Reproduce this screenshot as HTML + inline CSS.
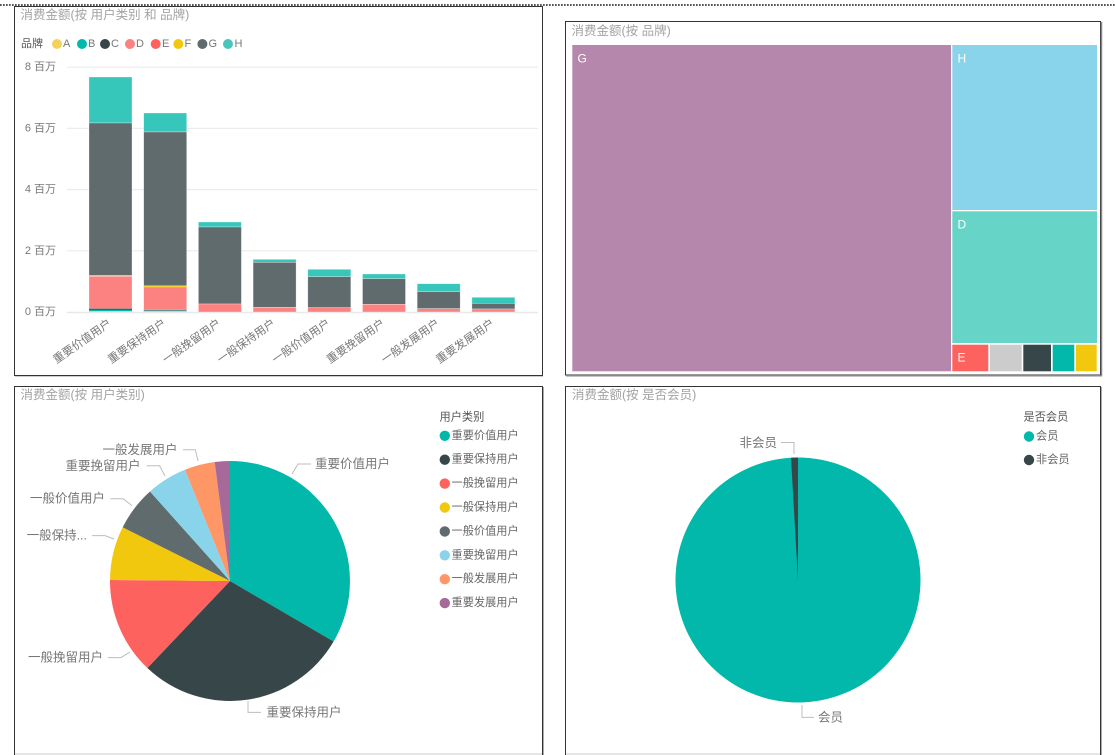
<!DOCTYPE html>
<html><head><meta charset="utf-8"><style>
html,body{margin:0;padding:0;background:#fff;}
svg{display:block;}
text{font-family:"Liberation Sans","Noto Sans CJK SC",sans-serif;}
</style></head><body>
<svg width="1115" height="755" viewBox="0 0 1115 755" xmlns="http://www.w3.org/2000/svg">
<rect width="1115" height="755" fill="#fff"/>
<!-- dotted top line -->
<line x1="0" y1="5" x2="1115" y2="5" stroke="#555" stroke-width="2" stroke-dasharray="1.7 1.3"/>

<!-- panel borders -->
<rect x="14.5" y="6.5" width="528" height="369" fill="none" stroke="#333" stroke-width="1"/>
<line x1="15" y1="376.5" x2="543" y2="376.5" stroke="#ccc"/>
<rect x="565.5" y="21.5" width="535" height="353.5" fill="none" stroke="#333" stroke-width="1"/>
<line x1="1101.5" y1="22" x2="1101.5" y2="376" stroke="#888" stroke-width="1.5"/>
<line x1="566" y1="375.8" x2="1102" y2="375.8" stroke="#888" stroke-width="1.5"/>
<rect x="14.5" y="386.5" width="528" height="380" fill="none" stroke="#333" stroke-width="1"/>
<line x1="543.5" y1="387" x2="543.5" y2="755" stroke="#aaa"/>
<rect x="565.5" y="386.5" width="535" height="380" fill="none" stroke="#333" stroke-width="1"/>
<line x1="1101.5" y1="387" x2="1101.5" y2="755" stroke="#aaa"/>
<line x1="15" y1="754" x2="542" y2="754" stroke="#ddd" stroke-width="1.5"/>
<line x1="566" y1="754" x2="1100" y2="754" stroke="#ddd" stroke-width="1.5"/>

<!-- ============ PANEL 1: stacked bar ============ -->
<text x="20.5" y="15" font-size="12.5" fill="#a3a3a3" dominant-baseline="central">消费金额(按 用户类别 和 品牌)</text>
<g font-size="11" dominant-baseline="central">
<text x="21" y="44" fill="#555">品牌</text>
<circle cx="57" cy="44" r="5" fill="#F4D25A"/><text x="63" y="44" fill="#777">A</text>
<circle cx="82" cy="44" r="5" fill="#01B8AA"/><text x="88" y="44" fill="#777">B</text>
<circle cx="105" cy="44" r="5" fill="#374649"/><text x="111" y="44" fill="#777">C</text>
<circle cx="130" cy="44" r="5" fill="#FB8281"/><text x="136" y="44" fill="#777">D</text>
<circle cx="155.7" cy="44" r="5" fill="#FD625E"/><text x="162" y="44" fill="#777">E</text>
<circle cx="178.3" cy="44" r="5" fill="#F2C80F"/><text x="184.5" y="44" fill="#777">F</text>
<circle cx="202.4" cy="44" r="5" fill="#5F6B6D"/><text x="208.5" y="44" fill="#777">G</text>
<circle cx="228" cy="44" r="5" fill="#4AC5BB"/><text x="234.5" y="44" fill="#777">H</text>
</g>
<!-- gridlines -->
<g stroke="#ececec" stroke-width="1.2">
<line x1="67" y1="67.2" x2="538" y2="67.2"/>
<line x1="67" y1="128.4" x2="538" y2="128.4"/>
<line x1="67" y1="189.6" x2="538" y2="189.6"/>
<line x1="67" y1="250.8" x2="538" y2="250.8"/>
</g>
<line x1="67" y1="312.5" x2="538" y2="312.5" stroke="#e8e8e8" stroke-width="1.6"/>
<g font-size="11" fill="#777" text-anchor="end" dominant-baseline="central">
<text x="56" y="67">8 百万</text>
<text x="56" y="128.4">6 百万</text>
<text x="56" y="189.6">4 百万</text>
<text x="56" y="250.8">2 百万</text>
<text x="56" y="312">0 百万</text>
</g>
<!-- bars -->
<g stroke="#fff" stroke-width="0.6" stroke-opacity="0.5">
<!-- bar 1 -->
<rect x="89" y="77" width="43" height="46" fill="#37C6BA"/>
<rect x="89" y="123" width="43" height="152.3" fill="#5F6B6D"/>
<rect x="89" y="275.3" width="43" height="1" fill="#F2C80F" stroke="none"/>
<rect x="89" y="276.3" width="43" height="32.4" fill="#FB8281"/>
<rect x="89" y="308.7" width="43" height="1.2" fill="#374649" stroke="none"/>
<rect x="89" y="309.9" width="43" height="1.2" fill="#01B8AA" stroke="none"/>
<rect x="89" y="311.1" width="43" height="0.9" fill="#F4D25A" stroke="none"/>
<!-- bar 2 -->
<rect x="143.7" y="113" width="43" height="19" fill="#37C6BA"/>
<rect x="143.7" y="132" width="43" height="153.7" fill="#5F6B6D"/>
<rect x="143.7" y="285.7" width="43" height="1.3" fill="#F2C80F" stroke="none"/>
<rect x="143.7" y="287" width="43" height="22.7" fill="#FB8281"/>
<rect x="143.7" y="309.7" width="43" height="1.3" fill="#5a9a96" stroke="none"/>
<rect x="143.7" y="311" width="43" height="1" fill="#F4D25A" stroke="none"/>
<!-- bar 3 -->
<rect x="198.4" y="222" width="43" height="5" fill="#37C6BA"/>
<rect x="198.4" y="227" width="43" height="77" fill="#5F6B6D"/>
<rect x="198.4" y="304" width="43" height="8" fill="#FB8281"/>
<!-- bar 4 -->
<rect x="253.1" y="259.3" width="43" height="3" fill="#37C6BA"/>
<rect x="253.1" y="262.3" width="43" height="45" fill="#5F6B6D"/>
<rect x="253.1" y="307.3" width="43" height="4.7" fill="#FB8281"/>
<!-- bar 5 -->
<rect x="307.8" y="269.3" width="43" height="7.4" fill="#37C6BA"/>
<rect x="307.8" y="276.7" width="43" height="31" fill="#5F6B6D"/>
<rect x="307.8" y="307.7" width="43" height="4.3" fill="#FB8281"/>
<!-- bar 6 -->
<rect x="362.5" y="274" width="43" height="4.7" fill="#37C6BA"/>
<rect x="362.5" y="278.7" width="43" height="25.6" fill="#5F6B6D"/>
<rect x="362.5" y="304.3" width="43" height="7.7" fill="#FB8281"/>
<!-- bar 7 -->
<rect x="417.2" y="283.7" width="43" height="8" fill="#37C6BA"/>
<rect x="417.2" y="291.7" width="43" height="17" fill="#5F6B6D"/>
<rect x="417.2" y="308.7" width="43" height="3.3" fill="#FB8281"/>
<!-- bar 8 -->
<rect x="471.9" y="297.3" width="43" height="6" fill="#37C6BA"/>
<rect x="471.9" y="303.3" width="43" height="5.7" fill="#5F6B6D"/>
<rect x="471.9" y="309" width="43" height="3" fill="#FB8281"/>
</g>
<!-- x labels -->
<g font-size="11.3" fill="#777" text-anchor="end">
<text transform="translate(106.5,317) rotate(-35)" dy="0.86em">重要价值用户</text>
<text transform="translate(161.2,317) rotate(-35)" dy="0.86em">重要保持用户</text>
<text transform="translate(215.9,317) rotate(-35)" dy="0.86em">一般挽留用户</text>
<text transform="translate(270.6,317) rotate(-35)" dy="0.86em">一般保持用户</text>
<text transform="translate(325.3,317) rotate(-35)" dy="0.86em">一般价值用户</text>
<text transform="translate(380,317) rotate(-35)" dy="0.86em">重要挽留用户</text>
<text transform="translate(434.7,317) rotate(-35)" dy="0.86em">一般发展用户</text>
<text transform="translate(489.4,317) rotate(-35)" dy="0.86em">重要发展用户</text>
</g>

<!-- ============ PANEL 2: treemap ============ -->
<text x="571.5" y="31" font-size="12.5" fill="#a3a3a3" dominant-baseline="central">消费金额(按 品牌)</text>
<rect x="572.3" y="45" width="378.7" height="326.3" fill="#B687AC"/>
<rect x="952.3" y="45" width="144.7" height="165" fill="#8AD4EB"/>
<rect x="952.3" y="211.3" width="144.7" height="131.7" fill="#67D4C8"/>
<rect x="952.3" y="344.7" width="36" height="26.6" fill="#FD625E"/>
<rect x="990" y="344.7" width="31.7" height="26.6" fill="#CCCCCC"/>
<rect x="1023.3" y="344.7" width="27.7" height="26.6" fill="#374649"/>
<rect x="1052.7" y="344.7" width="21.6" height="26.6" fill="#01B8AA"/>
<rect x="1076" y="344.7" width="20.7" height="26.6" fill="#F2C80F"/>
<g font-size="12" fill="#fff" dominant-baseline="central">
<text x="577.5" y="58.5">G</text>
<text x="957.5" y="58.5">H</text>
<text x="957.5" y="224.5">D</text>
<text x="957.5" y="357.5">E</text>
</g>

<!-- ============ PANEL 3: pie ============ -->
<text x="20.5" y="395" font-size="12.5" fill="#a3a3a3" dominant-baseline="central">消费金额(按 用户类别)</text>
<path d="M230,581 L230,461 A120,120 0 0 1 333.6,641.5 Z" fill="#01B8AA"/>
<path d="M230,581 L333.6,641.5 A120,120 0 0 1 147.4,668 Z" fill="#374649"/>
<path d="M230,581 L147.4,668 A120,120 0 0 1 110,580 Z" fill="#FD625E"/>
<path d="M230,581 L110,580 A120,120 0 0 1 122.7,527.3 Z" fill="#F2C80F"/>
<path d="M230,581 L122.7,527.3 A120,120 0 0 1 150,491.5 Z" fill="#5F6B6D"/>
<path d="M230,581 L150,491.5 A120,120 0 0 1 184.9,469.8 Z" fill="#8AD4EB"/>
<path d="M230,581 L184.9,469.8 A120,120 0 0 1 214.7,462 Z" fill="#FE9666"/>
<path d="M230,581 L214.7,462 A120,120 0 0 1 230,461 Z" fill="#A66999"/>
<g fill="none" stroke="#bdbdbd" stroke-width="1">
<polyline points="292,474 298,464 311,464"/>
<polyline points="248,701 248,712.4 261,712.4"/>
<polyline points="108,657.6 121,657.6 130,652"/>
<polyline points="92,535.6 105,535.6 114,539"/>
<polyline points="110.5,498.7 123,498.7 132,505.6"/>
<polyline points="146.6,465.8 159.6,465.8 165,476"/>
<polyline points="183,449.8 195.4,449.8 198,461"/>
</g>
<g font-size="12.5" fill="#777" dominant-baseline="central">
<text x="315" y="464">重要价值用户</text>
<text x="266.5" y="712.4">重要保持用户</text>
<text x="103" y="657.6" text-anchor="end">一般挽留用户</text>
<text x="87" y="535.6" text-anchor="end">一般保持...</text>
<text x="105" y="498.7" text-anchor="end">一般价值用户</text>
<text x="140.5" y="465.8" text-anchor="end">重要挽留用户</text>
<text x="177.5" y="449.8" text-anchor="end">一般发展用户</text>
</g>
<g font-size="11.2" dominant-baseline="central">
<text x="439.5" y="417.6" fill="#555">用户类别</text>
<circle cx="444.8" cy="435.8" r="5.2" fill="#01B8AA"/><text x="451.5" y="435.8" fill="#666">重要价值用户</text>
<circle cx="444.8" cy="459.7" r="5.2" fill="#374649"/><text x="451.5" y="459.7" fill="#666">重要保持用户</text>
<circle cx="444.8" cy="483.6" r="5.2" fill="#FD625E"/><text x="451.5" y="483.6" fill="#666">一般挽留用户</text>
<circle cx="444.8" cy="507.5" r="5.2" fill="#F2C80F"/><text x="451.5" y="507.5" fill="#666">一般保持用户</text>
<circle cx="444.8" cy="531.4" r="5.2" fill="#5F6B6D"/><text x="451.5" y="531.4" fill="#666">一般价值用户</text>
<circle cx="444.8" cy="555.3" r="5.2" fill="#8AD4EB"/><text x="451.5" y="555.3" fill="#666">重要挽留用户</text>
<circle cx="444.8" cy="579.2" r="5.2" fill="#FE9666"/><text x="451.5" y="579.2" fill="#666">一般发展用户</text>
<circle cx="444.8" cy="603.1" r="5.2" fill="#A66999"/><text x="451.5" y="603.1" fill="#666">重要发展用户</text>
</g>

<!-- ============ PANEL 4: pie ============ -->
<text x="572" y="395" font-size="12.5" fill="#a3a3a3" dominant-baseline="central">消费金额(按 是否会员)</text>
<circle cx="798" cy="580" r="122.5" fill="#01B8AA"/>
<path d="M798,580 L791,457.7 A122.5,122.5 0 0 1 798,457.5 Z" fill="#374649"/>
<g fill="none" stroke="#bdbdbd" stroke-width="1">
<polyline points="781,442.5 794,442.5 794,454"/>
<polyline points="802,705 802,717.4 814,717.4"/>
</g>
<g font-size="12.5" fill="#777" dominant-baseline="central">
<text x="777" y="443" text-anchor="end">非会员</text>
<text x="818" y="717.4">会员</text>
</g>
<g font-size="11.2" dominant-baseline="central">
<text x="1023.5" y="417.6" fill="#555">是否会员</text>
<circle cx="1029" cy="436.5" r="5.2" fill="#01B8AA"/><text x="1036" y="436.5" fill="#666">会员</text>
<circle cx="1029" cy="460" r="5.2" fill="#374649"/><text x="1036" y="460" fill="#666">非会员</text>
</g>
</svg>
</body></html>
